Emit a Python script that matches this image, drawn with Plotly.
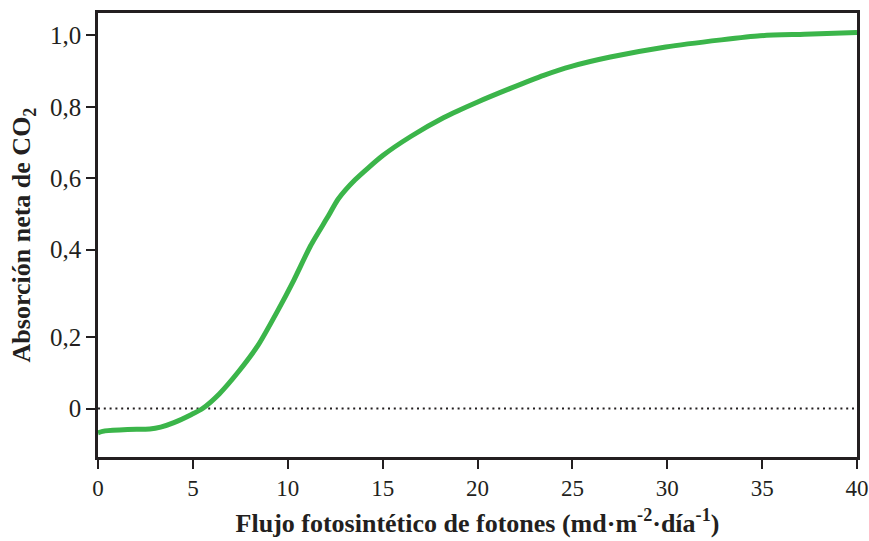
import plotly.graph_objects as go

# Data
flujo = [0, 0.37, 1.56, 2.73, 3.3, 4.0, 4.93, 5.51, 6.39, 7.41, 8.43, 9.46,
         10.33, 11.21, 12.08, 12.67, 13.55, 15.01, 16.48, 18.23, 19.98, 21.73,
         23.49, 24.95, 27.0, 29.92, 32.85, 34.89, 37.23, 40.0]
absorcion = [-0.065, -0.060, -0.056, -0.055, -0.050, -0.038, -0.016, 0.0, 0.039,
             0.099, 0.169, 0.261, 0.345, 0.437, 0.511, 0.562, 0.613, 0.678,
             0.729, 0.780, 0.821, 0.858, 0.893, 0.917, 0.942, 0.969, 0.988,
             0.999, 1.003, 1.008]

x_ticks = [0, 5, 10, 15, 20, 25, 30, 35, 40]
x_labels = ["0", "5", "10", "15", "20", "25", "30", "35", "40"]
# tick marks sit at slightly irregular positions in the reference
y_ticks = [0, 0.192, 0.426, 0.617, 0.808, 1.0]
y_labels = ["0", "0,2", "0,4", "0,6", "0,8", "1,0"]
zero_line_x = [0, 40]
zero_line_y = [0, 0]

ink = "#231f20"
green = "#3bb54a"
font = "'Liberation Serif', 'Times New Roman', Times, serif"

fig = go.Figure()
fig.add_trace(go.Scatter(x=zero_line_x, y=zero_line_y, mode="lines",
                         line=dict(color=ink, width=2, dash="2px,3.8px"),
                         hoverinfo="skip", showlegend=False))
fig.add_trace(go.Scatter(x=flujo, y=absorcion, mode="lines",
                         line=dict(color=green, width=5, shape="spline", smoothing=0.6),
                         showlegend=False))

fig.update_layout(
    width=869, height=541,
    margin=dict(l=98, r=12, t=13, b=84, autoexpand=False),
    paper_bgcolor="white", plot_bgcolor="white",
    font=dict(family=font, color=ink, size=23),
    showlegend=False,
)
fig.update_xaxes(
    range=[0, 40], tickvals=x_ticks, ticktext=x_labels,
    showgrid=False, zeroline=False,
    showline=True, linecolor=ink, linewidth=2.5, mirror=True,
    ticks="outside", ticklen=9, tickwidth=2, tickcolor=ink,
    tickfont=dict(family=font, size=23, color=ink),
    title=dict(text="<b>Flujo fotosintético de fotones (md·m<sup>-2</sup>·día<sup>-1</sup>)</b>",
               font=dict(family=font, size=26, color=ink), standoff=14),
    automargin=False,
)
fig.update_yaxes(
    range=[-0.130, 1.060], tickvals=y_ticks, ticktext=y_labels,
    showgrid=False, zeroline=False,
    showline=True, linecolor=ink, linewidth=2.5, mirror=True,
    ticks="outside", ticklen=9, tickwidth=2, tickcolor=ink,
    tickfont=dict(family=font, size=25, color=ink),
    title=dict(text="<b>Absorción neta de CO<sub>2</sub></b>",
               font=dict(family=font, size=26, color=ink), standoff=12),
    automargin=False,
)

fig.write_html("out.html")
